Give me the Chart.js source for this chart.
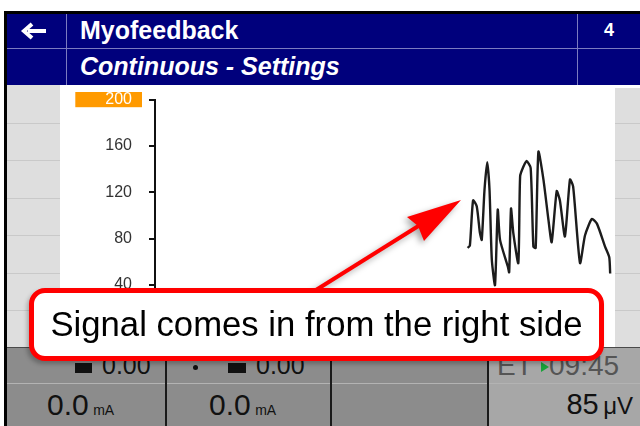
<!DOCTYPE html>
<html>
<head>
<meta charset="utf-8">
<script src="https://cdn.jsdelivr.net/npm/chart.js@4/dist/chart.umd.min.js"></script>
<style>
  html, body { margin: 0; padding: 0; width: 640px; height: 426px; overflow: hidden; background: #fff; }
  body { position: relative; font-family: "Liberation Sans", Arial, sans-serif; }
  .abs { position: absolute; }
  .hdr { color: #fff; font-weight: bold; }
  .panel-line { position: absolute; left: 0; right: 0; height: 1px; background: #c9c9c9; }
  .big { font-size: 25px; color: #111; }
  .unit { font-size: 14px; color: #111; }
</style>
</head>
<body>
<!-- side panels -->
<div class="abs" style="left:4px;top:11px;width:3px;height:415px;background:#000"></div>
<div class="abs" style="left:7px;top:85px;width:53px;height:263px;background:#dedede">
  <div class="panel-line" style="top:38px"></div>
  <div class="panel-line" style="top:75px"></div>
  <div class="panel-line" style="top:113px"></div>
  <div class="panel-line" style="top:150px"></div>
  <div class="panel-line" style="top:188px"></div>
  <div class="panel-line" style="top:225px"></div>
</div>
<div class="abs" style="left:615px;top:88px;width:25px;height:260px;background:#dedede">
  <div class="panel-line" style="top:35px"></div>
  <div class="panel-line" style="top:72px"></div>
  <div class="panel-line" style="top:110px"></div>
  <div class="panel-line" style="top:147px"></div>
  <div class="panel-line" style="top:185px"></div>
  <div class="panel-line" style="top:222px"></div>
</div>

<!-- chart (canvas is transparent; header and bottom panel are stacked above it) -->
<canvas id="emg" class="abs" width="555" height="285" style="left:60px;top:73px;"></canvas>

<!-- header -->
<div class="abs" style="left:4px;top:11px;width:636px;height:3px;background:#000"></div>
<div class="abs" style="left:7px;top:14px;width:633px;height:71px;background:#00007c"></div>
<div class="abs" style="left:7px;top:48px;width:633px;height:1px;background:#7b7bc0"></div>
<div class="abs" style="left:66px;top:14px;width:1px;height:71px;background:#7b7bc0"></div>
<div class="abs" style="left:577px;top:14px;width:1px;height:71px;background:#7b7bc0"></div>
<svg class="abs" width="30" height="20" style="left:20px;top:21px;">
  <line x1="8" y1="10" x2="26" y2="10" stroke="#fff" stroke-width="4"/>
  <polyline points="12,3 4,10 12,17" fill="none" stroke="#fff" stroke-width="4" stroke-linejoin="miter"/>
</svg>
<div class="abs hdr" style="left:80px;top:16px;font-size:25px;">Myofeedback</div>
<div class="abs hdr" style="left:80px;top:52px;font-size:25px;font-style:italic;">Continuous - Settings</div>
<div class="abs hdr" style="left:604px;top:20px;font-size:18px;">4</div>

<!-- bottom panel -->
<div class="abs" style="left:7px;top:347px;width:481px;height:79px;background:#8c8c8c"></div>
<div class="abs" style="left:488px;top:347px;width:152px;height:79px;background:#a7a7a7"></div>
<div class="abs" style="left:7px;top:347px;width:633px;height:1px;background:#4a4a4a"></div>
<div class="abs" style="left:7px;top:383px;width:633px;height:1px;background:#b3b3b3"></div>
<div class="abs" style="left:165px;top:347px;width:2px;height:79px;background:#1a1a1a"></div>
<div class="abs" style="left:330px;top:347px;width:2px;height:79px;background:#1a1a1a"></div>
<div class="abs" style="left:487px;top:347px;width:2px;height:79px;background:#1a1a1a"></div>

<div class="abs" style="left:75px;top:363px;width:17px;height:10px;background:#111"></div>
<div class="abs big" style="left:102px;top:351px;">0.00</div>
<div class="abs" style="left:193px;top:365px;width:5px;height:5px;border-radius:3px;background:#111"></div>
<div class="abs" style="left:228px;top:363px;width:18px;height:10px;background:#111"></div>
<div class="abs big" style="left:256px;top:351px;">0.00</div>
<div class="abs big" style="left:497px;top:350px;color:#555;font-size:28px;">ET</div>
<div class="abs" style="left:541px;top:362px;width:0;height:0;border-left:8px solid #19a33a;border-top:5px solid transparent;border-bottom:5px solid transparent;"></div>
<div class="abs big" style="left:549px;top:350px;color:#555;font-size:28px;">09:45</div>

<div class="abs" style="left:47px;top:388px;"><span class="big" style="font-size:30px">0.0</span> <span class="unit">mA</span></div>
<div class="abs" style="left:209px;top:388px;"><span class="big" style="font-size:30px">0.0</span> <span class="unit">mA</span></div>
<div class="abs" style="right:7px;top:388px;"><span class="big" style="font-size:29px">85</span> <span class="big" style="font-size:24px">&#956;V</span></div>

<!-- annotation -->
<svg class="abs" width="640" height="426" style="left:0;top:0;filter:drop-shadow(-3px 3px 3px rgba(0,0,0,0.35));">
  <line x1="316" y1="290" x2="420" y2="225" stroke="#ff0000" stroke-width="4"/>
  <polygon points="461,200 407,217 418,226 424,241" fill="#ff0000"/>
</svg>
<div class="abs" style="left:29px;top:288px;width:565px;height:63px;border:5px solid #ff0000;border-radius:16px;background:#fff;box-shadow:-2px 3px 4px rgba(0,0,0,0.25);display:flex;align-items:center;justify-content:center;">
  <span style="font-size:34.7px;color:#000;">Signal comes in from the right side</span>
</div>

<script>
// EMG trace, x in % of sweep window, y in microvolts
const sweepPos = [68.4, 68.9, 69.6, 70.4, 71.1, 71.5, 72.1, 72.7, 73.2, 73.7,
  74.4, 75.0, 75.5, 77.2, 77.5, 77.9, 78.4, 79.5, 79.9, 80.6,
  81.3, 82.2, 82.8, 83.3, 83.9, 85.0, 86.1, 86.8, 87.9, 88.6,
  89.7, 90.8, 91.5, 93.0, 94.1, 95.6, 96.7, 98.5, 99.4, 99.6];
const signalUv = [72, 74, 113, 108, 85, 79, 122, 146, 122, 62,
  40, 105, 79, 56, 51, 106, 85, 59, 134, 142,
  147, 141, 73, 72, 155, 131, 96, 77, 121, 113,
  82, 131, 125, 59, 83, 97, 93, 73, 64, 50];
const yTicks = [0, 40, 80, 120, 160, 200];
const rangeMax = 200;

const points = sweepPos.map((x, i) => ({ x: x, y: signalUv[i] }));

new Chart(document.getElementById('emg'), {
  type: 'line',
  data: {
    datasets: [{
      data: points,
      borderColor: '#1c1c1c',
      borderWidth: 2.4,
      pointRadius: 0,
      tension: 0.2,
      fill: false
    }]
  },
  options: {
    responsive: false,
    animation: false,
    layout: { padding: { top: 0, bottom: 0, right: 3, left: 0 } },
    plugins: { legend: { display: false }, tooltip: { enabled: false } },
    scales: {
      x: { type: 'linear', min: 0, max: 100, display: false },
      y: {
        min: 0,
        max: rangeMax,
        afterFit: (scale) => { scale.width = 95; },
        afterBuildTicks: (scale) => { scale.ticks = yTicks.map(v => ({ value: v })); },
        border: { display: true, color: '#111', width: 2 },
        grid: { drawOnChartArea: false, drawTicks: true, tickLength: 6, color: '#111', lineWidth: 2 },
        ticks: {
          padding: 17,
          font: { family: 'Liberation Sans, Arial, sans-serif', size: 16 },
          color: (ctx) => ctx.tick && ctx.tick.value === rangeMax ? '#ffffff' : '#333333',
          showLabelBackdrop: (ctx) => ctx.tick && ctx.tick.value === rangeMax,
          backdropColor: '#ff9a00',
          backdropPadding: { left: 30, right: 10, top: -2, bottom: -2 }
        }
      }
    }
  }
});
</script>
</body>
</html>
